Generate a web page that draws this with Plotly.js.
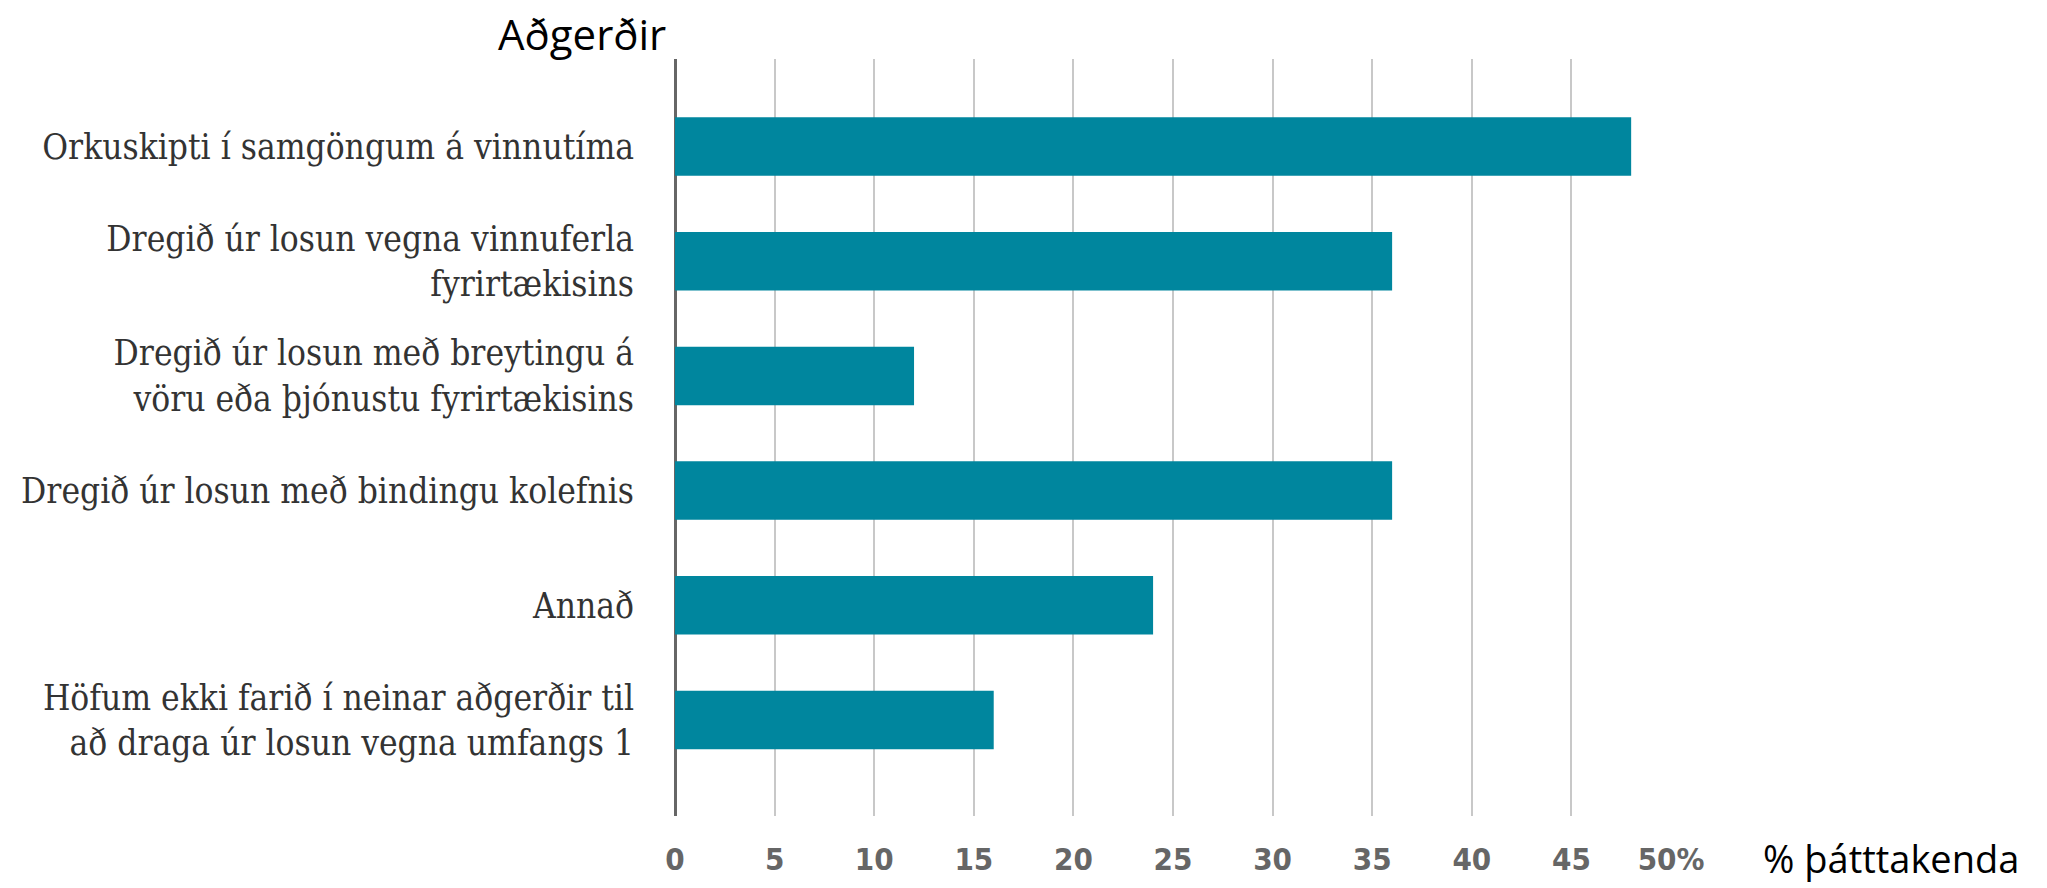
<!DOCTYPE html>
<html><head><meta charset="utf-8">
<script src="https://cdn.plot.ly/plotly-3.0.1.min.js"></script>
<style>html,body{margin:0;padding:0;background:#fff}#chart{width:2047px;height:888px}</style>
</head><body><div id="chart"></div>
<script>
const categories = [
  "Orkuskipti í samgöngum á vinnutíma",
  "Dregið úr losun vegna vinnuferla<br>fyrirtækisins",
  "Dregið úr losun með breytingu á<br>vöru eða þjónustu fyrirtækisins",
  "Dregið úr losun með bindingu kolefnis",
  "Annað",
  "Höfum ekki farið í neinar aðgerðir til<br>að draga úr losun vegna umfangs 1"
];
const values = [48, 36, 12, 36, 24, 16];
const tickVals = [0, 5, 10, 15, 20, 25, 30, 35, 40, 45, 50];
const tickText = ["0", "5", "10", "15", "20", "25", "30", "35", "40", "45", "50%"];

const trace = {
  type: 'bar', orientation: 'h',
  x: values, y: categories,
  marker: {color: '#00869e', line: {width: 0}},
  hoverinfo: 'x+y'
};
const layout = {
  width: 2047, height: 888,
  margin: {l: 675, r: 376, t: 59, b: 72},
  paper_bgcolor: '#fff', plot_bgcolor: '#fff',
  bargap: 0.49,
  showlegend: false,
  xaxis: {
    range: [0, 50], tickvals: tickVals, ticktext: tickText,
    showgrid: true, gridcolor: '#c8c8c8', gridwidth: 2,
    zeroline: true, zerolinecolor: '#666', zerolinewidth: 3,
    ticks: '', ticklabelstandoff: 22,
    tickfont: {family: 'DejaVu Sans Condensed, DejaVu Sans', size: 31, color: '#666', weight: 'bold'},
    fixedrange: true
  },
  yaxis: {
    type: 'category', range: [5.837, -0.763],
    showgrid: false, zeroline: false, showline: false, ticks: '',
    ticklabelstandoff: 40,
    tickfont: {family: 'DejaVu Serif Condensed, DejaVu Serif', size: 35, color: '#333'},
    fixedrange: true
  },
  annotations: [
    {text: 'Aðgerðir', xref: 'paper', yref: 'paper', x: -0.007, y: 1.034, xanchor: 'right', yanchor: 'middle', showarrow: false, font: {family: 'Open Sans', size: 42, color: '#000'}},
    {text: '% þátttakenda', xref: 'paper', yref: 'paper', x: 1.091, y: -0.0915, xanchor: 'left', yanchor: 'bottom', showarrow: false, borderpad: 0, font: {family: 'Open Sans', size: 38, color: '#000'}}
  ]
};
Plotly.newPlot('chart', [trace], layout, {displayModeBar: false, staticPlot: true});
</script></body></html>
